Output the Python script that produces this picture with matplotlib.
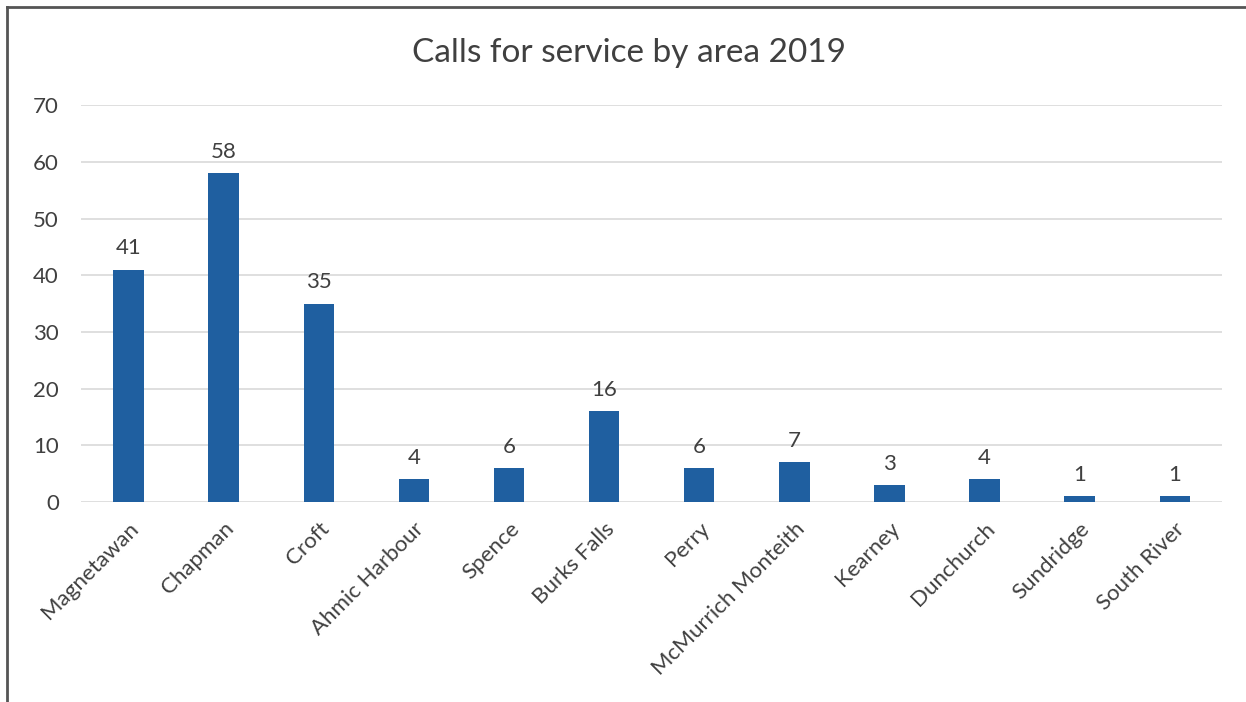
import numpy as np
import matplotlib
matplotlib.use("Agg")
import matplotlib.pyplot as plt
from matplotlib.lines import Line2D

# calls per area, 2019
areas = ["Magnetawan", "Chapman", "Croft", "Ahmic Harbour", "Spence",
         "Burks Falls", "Perry", "McMurrich Monteith", "Kearney",
         "Dunchurch", "Sundridge", "South River"]
calls = [41, 58, 35, 4, 6, 16, 6, 7, 3, 4, 1, 1]
y_ticks = [0, 10, 20, 30, 40, 50, 60, 70]

plt.rcParams['font.family'] = ['Lato', 'DejaVu Sans']
text_col = '#404040'
bar_col = '#1f5fa0'

fig = plt.figure(figsize=(12.46, 7.02), dpi=100)
ax = fig.add_axes([0.065, 0.285, 0.916, 0.565])

x = np.arange(len(areas))
ax.bar(x, calls, width=0.32, color=bar_col, zorder=3)

# value labels above each bar
for xi, v in zip(x, calls):
    ax.text(xi, v + 2.0, str(v), ha='center', va='bottom',
            fontsize=16, color=text_col)

ax.set_xlim(-0.5, len(areas) - 0.5)
ax.set_ylim(0, 70)
ax.set_yticks(y_ticks)
ax.set_yticklabels([str(t) for t in y_ticks], fontsize=16, color=text_col)
ax.yaxis.grid(True, color='#d9d9d9', linewidth=1.2, zorder=0)
ax.tick_params(axis='y', length=0, pad=16)
ax.tick_params(axis='x', length=0, pad=12)

ax.set_xticks(x)
ax.set_xticklabels(areas, rotation=45, ha='right', rotation_mode='anchor',
                   fontsize=16, color=text_col)

for s in ax.spines.values():
    s.set_visible(False)

fig.text(0.505, 0.925, "Calls for service by area 2019", ha='center',
         va='center', fontsize=24, color=text_col)

# outer chart border (left and top only)
fig.add_artist(Line2D([0.006, 0.006], [0.0, 0.99], transform=fig.transFigure,
                      color='#555555', linewidth=2))
fig.add_artist(Line2D([0.006, 1.0], [0.99, 0.99], transform=fig.transFigure,
                      color='#555555', linewidth=2))

fig.savefig("out.png", dpi=100, facecolor='white')
